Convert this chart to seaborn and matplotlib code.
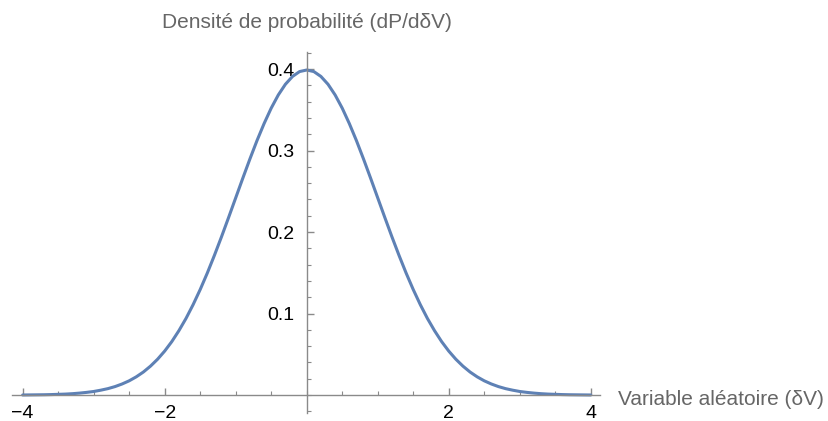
import matplotlib
matplotlib.use('Agg')
import matplotlib.pyplot as plt
from matplotlib.ticker import MultipleLocator, FixedLocator
import pandas as pd
import seaborn as sns

sns.set_style('white')
plt.rcParams['font.family'] = ['Liberation Sans', 'DejaVu Sans']

# values, every 0.1 from -4 to 4
x_values = [-4.0, -3.9, -3.8, -3.7, -3.6, -3.5, -3.4, -3.3, -3.2, -3.1,
            -3.0, -2.9, -2.8, -2.7, -2.6, -2.5, -2.4, -2.3, -2.2, -2.1,
            -2.0, -1.9, -1.8, -1.7, -1.6, -1.5, -1.4, -1.3, -1.2, -1.1,
            -1.0, -0.9, -0.8, -0.7, -0.6, -0.5, -0.4, -0.3, -0.2, -0.1,
            0.0, 0.1, 0.2, 0.3, 0.4, 0.5, 0.6, 0.7, 0.8, 0.9,
            1.0, 1.1, 1.2, 1.3, 1.4, 1.5, 1.6, 1.7, 1.8, 1.9,
            2.0, 2.1, 2.2, 2.3, 2.4, 2.5, 2.6, 2.7, 2.8, 2.9,
            3.0, 3.1, 3.2, 3.3, 3.4, 3.5, 3.6, 3.7, 3.8, 3.9, 4.0]
y_values = [0.0001, 0.0002, 0.0003, 0.0004, 0.0006, 0.0009, 0.0012, 0.0017,
            0.0024, 0.0033, 0.0044, 0.0060, 0.0079, 0.0104, 0.0136, 0.0175,
            0.0224, 0.0283, 0.0355, 0.0440, 0.0540, 0.0656, 0.0790, 0.0940,
            0.1109, 0.1295, 0.1497, 0.1714, 0.1942, 0.2179, 0.2420, 0.2661,
            0.2897, 0.3123, 0.3332, 0.3521, 0.3683, 0.3814, 0.3910, 0.3970,
            0.3989,
            0.3970, 0.3910, 0.3814, 0.3683, 0.3521, 0.3332, 0.3123, 0.2897,
            0.2661, 0.2420, 0.2179, 0.1942, 0.1714, 0.1497, 0.1295, 0.1109,
            0.0940, 0.0790, 0.0656, 0.0540, 0.0440, 0.0355, 0.0283, 0.0224,
            0.0175, 0.0136, 0.0104, 0.0079, 0.0060, 0.0044, 0.0033, 0.0024,
            0.0017, 0.0012, 0.0009, 0.0006, 0.0004, 0.0003, 0.0002, 0.0001]
x_ticks = [-4, -2, 2, 4]
x_tick_labels = ['\u22124', '\u22122', '2', '4']
y_ticks = [0.1, 0.2, 0.3, 0.4]
y_tick_labels = ['0.1', '0.2', '0.3', '0.4']
x_label = 'Variable aléatoire (δV)'
y_label = 'Densité de probabilité (dP/dδV)'

df = pd.DataFrame({'x': x_values, 'y': y_values})

fig = plt.figure(figsize=(8.29, 4.21), dpi=100)
ax = fig.add_axes([12 / 829, 8 / 421, 588 / 829, 361 / 421])
sns.lineplot(data=df, x='x', y='y', ax=ax, color='#5E81B5', linewidth=2.2)

ax.set_xlim(-4.15, 4.13)
ax.set_ylim(-0.022, 0.421)
axis_col = '#8a8a8a'
for side in ['top', 'right']:
    ax.spines[side].set_visible(False)
ax.spines['left'].set_position(('data', 0))
ax.spines['bottom'].set_position(('data', 0))
for side in ['left', 'bottom']:
    ax.spines[side].set_color(axis_col)
    ax.spines[side].set_linewidth(1.0)

ax.xaxis.set_major_locator(FixedLocator(x_ticks))
ax.xaxis.set_minor_locator(MultipleLocator(0.5))
ax.yaxis.set_major_locator(FixedLocator(y_ticks))
ax.yaxis.set_minor_locator(MultipleLocator(0.02))
ax.set_xticklabels(x_tick_labels)
ax.set_yticklabels(y_tick_labels)
ax.tick_params(axis='both', which='both', bottom=True, left=True,
               top=False, right=False)
ax.tick_params(axis='both', which='major', direction='in', length=5,
               width=1, color=axis_col, labelsize=14, labelcolor='black')
ax.tick_params(axis='both', which='minor', direction='in', length=3,
               width=0.8, color=axis_col)
ax.tick_params(axis='x', which='major', pad=7.5)
ax.tick_params(axis='y', which='major', pad=9)
ax.set_xlabel('')
ax.set_ylabel('')

fig.text(618 / 829, 1 - 405 / 421, x_label, fontsize=15, color='#666666',
         ha='left', va='baseline')
fig.text(162 / 829, 1 - 28 / 421, y_label, fontsize=15, color='#666666',
         ha='left', va='baseline')

fig.savefig('out.png', dpi=100)
